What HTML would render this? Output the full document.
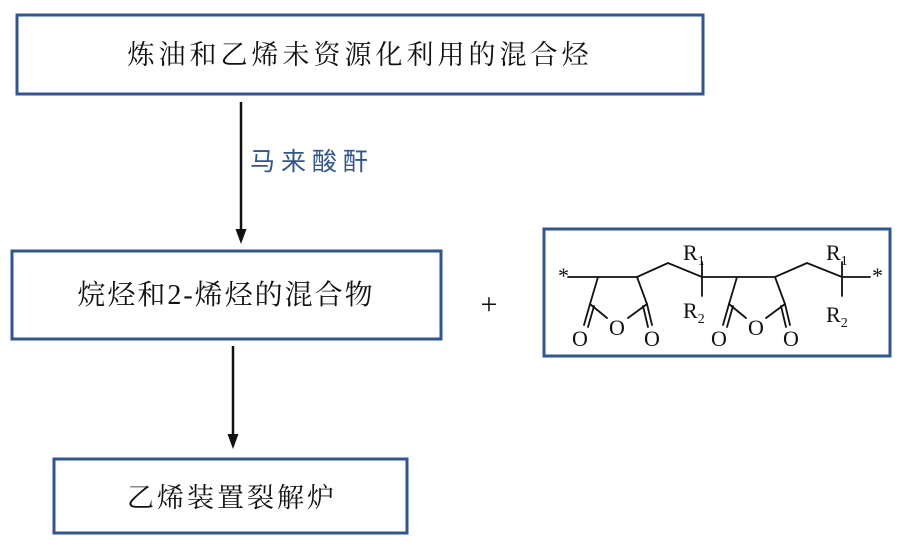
<!DOCTYPE html>
<html><head><meta charset="utf-8"><style>
body{margin:0;width:906px;height:545px;background:#fff;overflow:hidden}
svg{display:block}
.cn{font-family:"Liberation Serif","Noto Serif CJK SC","Noto Sans CJK SC",serif;fill:#111}
.ch{font-family:"Liberation Serif",serif;fill:#111}
</style></head><body>
<svg width="906" height="545" viewBox="0 0 906 545" xmlns="http://www.w3.org/2000/svg">
<g fill="none" stroke="#2f5597" stroke-width="3">
<rect x="17" y="15" width="686" height="79"/>
<rect x="12" y="251" width="429" height="88"/>
<rect x="54" y="459" width="353" height="74"/>
<rect x="544" y="229" width="346" height="127"/>
</g>
<text class="cn" x="360" y="64" font-size="27" text-anchor="middle" letter-spacing="4">炼油和乙烯未资源化利用的混合烃</text>
<text class="cn" x="226" y="304" font-size="28" text-anchor="middle" letter-spacing="2">烷烃和2-烯烃的混合物</text>
<text class="cn" x="232" y="507" font-size="27" text-anchor="middle" letter-spacing="3">乙烯装置裂解炉</text>
<text x="250" y="170" font-size="25" fill="#2f5597" font-family="Liberation Sans,'Noto Sans CJK SC',sans-serif" letter-spacing="6">马来酸酐</text>
<g stroke="#111" stroke-width="2.5">
<line x1="241" y1="102" x2="241" y2="232"/>
<line x1="233" y1="346" x2="233" y2="436"/>
</g>
<polygon points="235.5,229 246.5,229 241,244" fill="#111"/>
<polygon points="227.5,434 238.5,434 233,449" fill="#111"/>
<text class="ch" x="489" y="314" font-size="30" text-anchor="middle">+</text>
<g stroke="#111" stroke-width="1.8" fill="none" stroke-linecap="round">
<polyline points="568,277 598,277 637,277 668,263 702,277 737,277 775,277 807,263 842,277 870,277"/>
<line x1="702" y1="262" x2="702" y2="296"/>
<line x1="842" y1="262" x2="842" y2="296"/>
<polyline points="598,277 590,304 607,318"/>
<polyline points="637,277 647,304 628,318"/>
<line x1="590" y1="304" x2="584" y2="325"/><line x1="594" y1="306" x2="588" y2="327"/>
<line x1="647" y1="304" x2="652" y2="325"/><line x1="643" y1="306" x2="648" y2="327"/>
<polyline points="737,277 729,304 746,318"/>
<polyline points="775,277 785,304 766,318"/>
<line x1="729" y1="304" x2="723" y2="325"/><line x1="733" y1="306" x2="727" y2="327"/>
<line x1="785" y1="304" x2="790" y2="325"/><line x1="781" y1="306" x2="786" y2="327"/>
</g>
<g class="ch" font-size="22">
<text x="558" y="283">*</text>
<text x="872" y="283">*</text>
<text x="617" y="335" text-anchor="middle">O</text>
<text x="580" y="346" text-anchor="middle">O</text>
<text x="652" y="346" text-anchor="middle">O</text>
<text x="756" y="335" text-anchor="middle">O</text>
<text x="719" y="346" text-anchor="middle">O</text>
<text x="791" y="346" text-anchor="middle">O</text>
<text x="683" y="260">R<tspan font-size="14" dy="5">1</tspan></text>
<text x="683" y="318">R<tspan font-size="14" dy="5">2</tspan></text>
<text x="826" y="260">R<tspan font-size="14" dy="5">1</tspan></text>
<text x="826" y="322">R<tspan font-size="14" dy="5">2</tspan></text>
</g>
</svg>
</body></html>
